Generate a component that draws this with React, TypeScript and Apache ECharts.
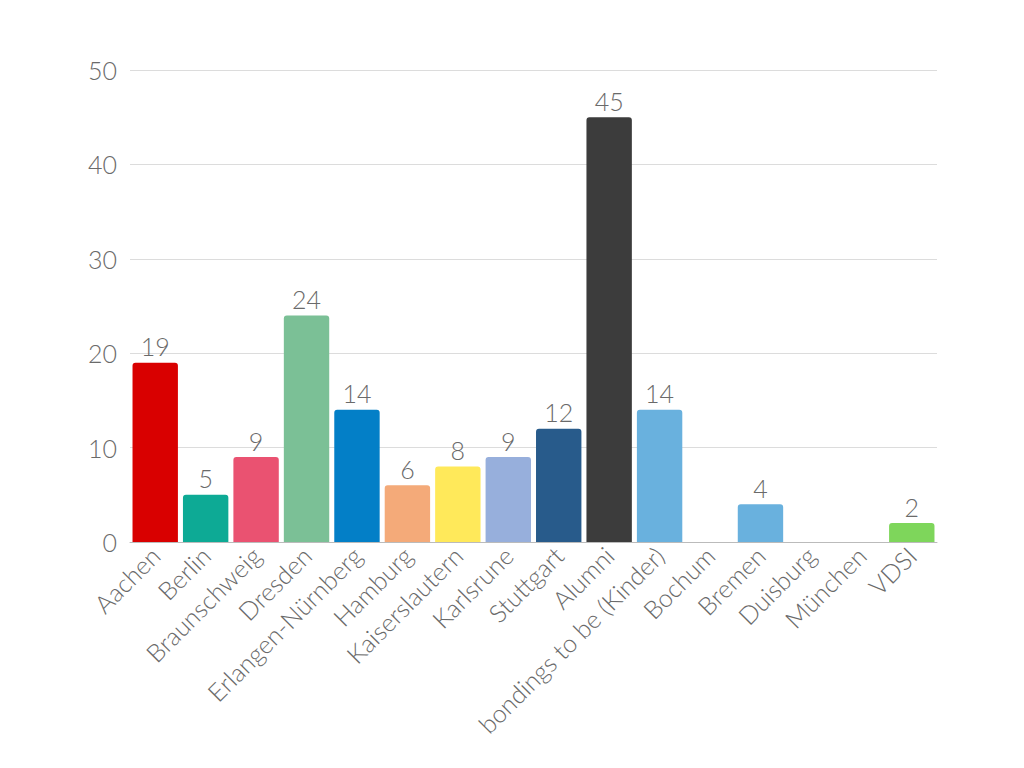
import React, { useEffect, useRef } from "react";
import * as echarts from "echarts";

const categories = [
  "Aachen", "Berlin", "Braunschweig", "Dresden", "Erlangen-Nürnberg", "Hamburg",
  "Kaiserslautern", "Karlsrune", "Stuttgart", "Alumni", "bondings to be (Kinder)",
  "Bochum", "Bremen", "Duisburg", "München", "VDSI",
];
const values = [19, 5, 9, 24, 14, 6, 8, 9, 12, 45, 14, 0, 4, 0, 0, 2];
const colors = [
  "#d90000", "#0daa95", "#ea5271", "#7bc096", "#037fc7", "#f4aa79",
  "#ffe95a", "#97afdc", "#285b8b", "#3c3c3c", "#69b1de",
  "#69b1de", "#69b1de", "#69b1de", "#69b1de", "#7ed65b",
];
const yTicks = { min: 0, max: 50, interval: 10 };

const FONT = "Lato";
const FW = 300;
const FS = 25;
const TEXT = "#6a6a6a";

export default function App() {
  const ref = useRef<HTMLDivElement>(null);
  useEffect(() => {
    const chart = echarts.init(ref.current!, null, { renderer: "svg" });
    chart.setOption({
      animation: false,
      backgroundColor: "#fff",
      grid: { left: 130, right: 87, top: 70, bottom: 226, containLabel: false },
      xAxis: {
        type: "category",
        data: categories,
        axisTick: { show: false },
        axisLine: { lineStyle: { color: "#bbb", width: 1 } },
        axisLabel: {
          rotate: 45,
          interval: 0,
          fontFamily: FONT,
          fontWeight: FW,
          fontSize: FS,
          color: TEXT,
          margin: 9,
        },
      },
      yAxis: {
        type: "value",
        min: yTicks.min,
        max: yTicks.max,
        interval: yTicks.interval,
        axisLine: { show: false },
        axisTick: { show: false },
        splitLine: { lineStyle: { color: "#dcdcdc", width: 1 } },
        axisLabel: {
          fontFamily: FONT,
          fontWeight: FW,
          fontSize: FS,
          color: TEXT,
          margin: 13,
        },
      },
      series: [
        {
          type: "bar",
          barCategoryGap: "10%",
          data: values.map((v, i) => ({
            value: v,
            itemStyle: { color: colors[i], borderRadius: [3, 3, 0, 0] },
          })),
          label: {
            show: true,
            position: "top",
            distance: 4,
            fontFamily: FONT,
            fontWeight: FW,
            fontSize: FS,
            color: TEXT,
            formatter: (p: any) => (p.value === 0 ? "" : String(p.value)),
          },
        },
      ],
    });
    return () => chart.dispose();
  }, []);
  return (
    <div
      ref={ref}
      style={{ position: "fixed", left: 0, top: 0, width: 1024, height: 768 }}
    />
  );
}
